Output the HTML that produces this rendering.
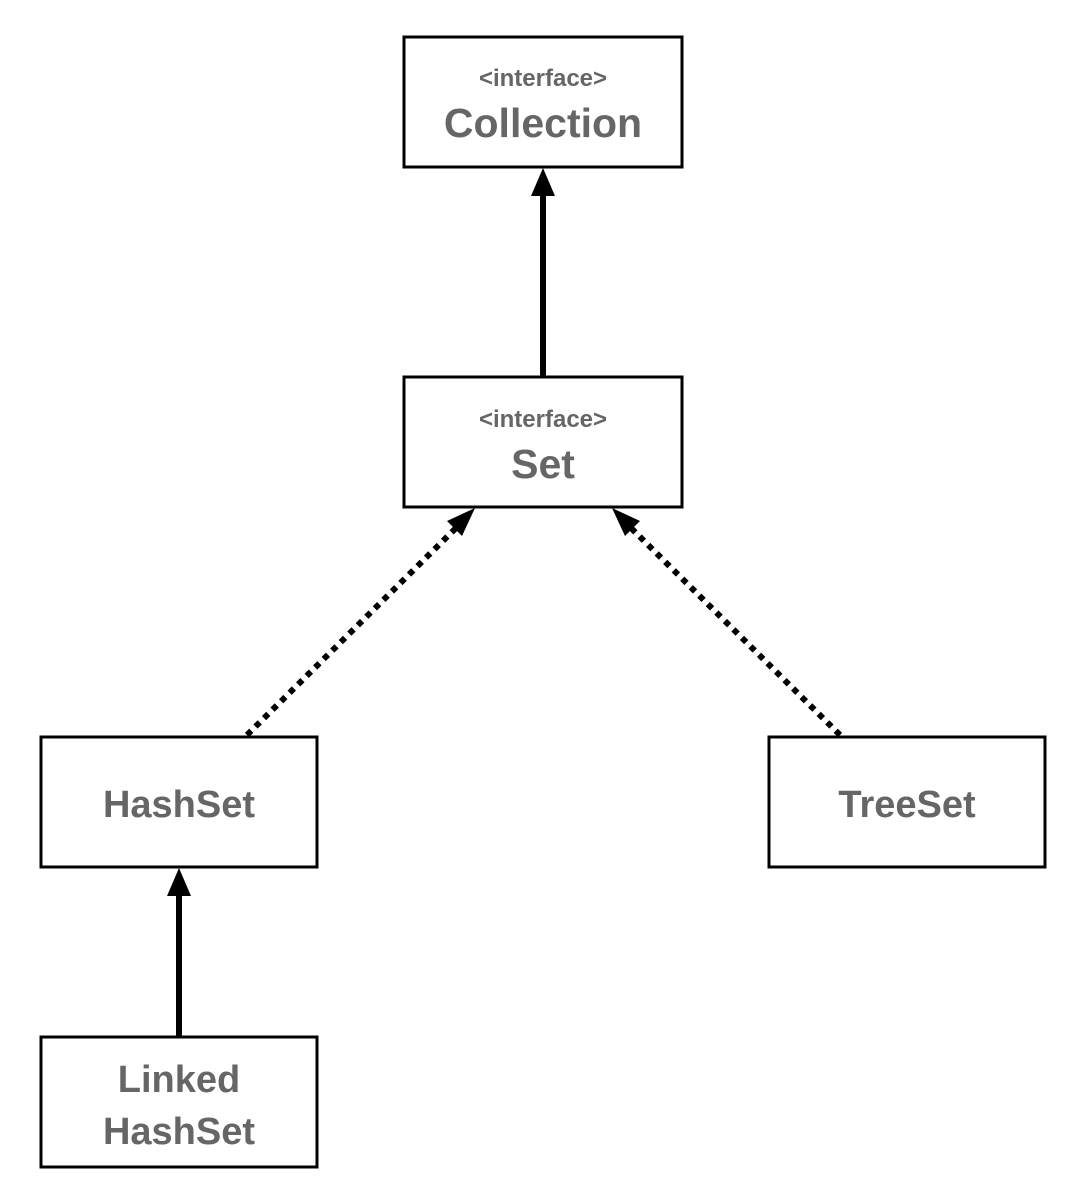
<!DOCTYPE html>
<html><head><style>
body{margin:0;background:#fff}
svg text{font-family:"Liberation Sans",Arial,sans-serif;font-weight:bold;fill:#666;text-anchor:middle}
</style></head><body>
<svg width="1086" height="1194" viewBox="0 0 1086 1194" xmlns="http://www.w3.org/2000/svg">
<g fill="#fff" stroke="#000" stroke-width="3">
<rect x="404" y="37" width="278" height="130"/>
<rect x="404" y="377" width="278" height="130"/>
<rect x="41" y="737" width="276" height="130"/>
<rect x="769" y="737" width="276" height="130"/>
<rect x="41" y="1037" width="276" height="130"/>
</g>
<g stroke="#000" stroke-width="6">
<line x1="543" y1="377" x2="543" y2="195"/>
<line x1="179" y1="1037" x2="179" y2="895"/>
</g>
<g stroke="#000" stroke-width="6" stroke-dasharray="6 6">
<line x1="247" y1="735" x2="458" y2="526"/>
<line x1="840" y1="735" x2="629" y2="526"/>
</g>
<g fill="#000">
<polygon points="543,168 531,196 555,196"/>
<polygon points="179,868 167,896 191,896"/>
<polygon points="475,508 447,521 462,536"/>
<polygon points="612,508 640,521 625,536"/>
</g>
<text x="543" y="86" font-size="24">&lt;interface&gt;</text>
<text x="543" y="137" font-size="41">Collection</text>
<text x="543" y="427" font-size="24">&lt;interface&gt;</text>
<text x="543" y="478" font-size="41">Set</text>
<text x="179" y="817" font-size="38">HashSet</text>
<text x="907" y="817" font-size="38">TreeSet</text>
<text x="179" y="1092" font-size="38">Linked</text>
<text x="179" y="1144" font-size="38">HashSet</text>
</svg>
</body></html>
